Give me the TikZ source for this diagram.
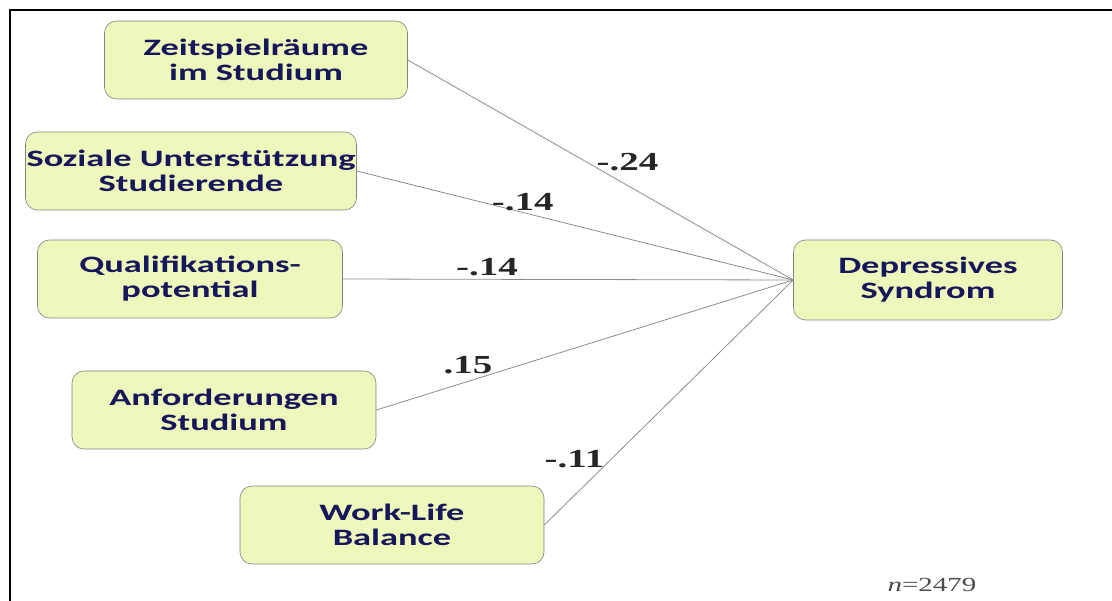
\documentclass[tikz,border=0pt]{standalone}
\usepackage{fontspec}
\setmainfont{Carlito}
\newfontfamily\boxfont[FakeStretch=1.55]{Carlito}
\newfontfamily\labelfont[FakeStretch=1.5]{Liberation Serif}
\newfontfamily\notefont[FakeStretch=1.45]{Liberation Serif}
\usetikzlibrary{positioning}
\definecolor{boxfill}{RGB}{238,248,188}
\definecolor{boxline}{RGB}{130,130,130}
\definecolor{boxtext}{RGB}{22,22,90}
\definecolor{pathline}{RGB}{140,140,140}

\begin{document}
\begin{tikzpicture}[x=1pt, y=-1pt, semithick]
\tikzset{factor/.style={draw=boxline, fill=boxfill, rounded corners=12pt, align=center, text=boxtext, font=\boxfont\bfseries\fontsize{23.5}{25}\selectfont, inner sep=0pt, minimum height=78pt}}
\tikzset{weight/.style={font=\labelfont\bfseries\fontsize{26}{28}\selectfont, text=black!85}}
\tikzset{every edge/.style={draw=pathline, line width=0.8pt}}

\useasboundingbox (0,0) rectangle (1112,601);
\draw[line width=2pt] (10,601) -- (10,10) -- (1112,10);

\node[factor, minimum width=303pt]    	(zeit)   at (256,60)   {Zeitspielräume\\im Studium};
\node[factor, minimum width=331pt]    	(sozial) at (191,171)  {Soziale Unterstützung\\Studierende};
\node[factor, minimum width=305pt]    	(quali)  at (190,279)  {Qualifikations-\\potential};
\node[factor, minimum width=304pt]    	(anf)    at (224,410)  {Anforderungen\\Studium};
\node[factor, minimum width=304pt]    	(work)   at (392,525)  {Work-Life\\Balance};
\node[factor, minimum width=269pt, minimum height=80pt]	(depr)	at (928,280)  {Depressives\\Syndrom};

\path
(zeit.east)   edge     	node[weight, pos=.57, yshift=23pt] (w1) {-.24}    	(depr.west)
(sozial.east) edge     	node[weight, pos=.38, yshift=10pt] (w2) {-.14}    	(depr.west)
(quali.east)  edge     	node[weight, pos=.32, yshift=12pt] (w3) {-.14}    	(depr.west)
(anf.east)    edge     	node[weight, pos=.22, yshift=16pt] (w4) {.15}    	(depr.west)
(work.east)   edge     	node[weight, pos=.27, xshift=-37pt] (w5) {-.11}    	(depr.west);

\node[font=\notefont\fontsize{20}{22}\selectfont, text=black!70] (n) at (932,585) {\textit{n}=2479};

\end{tikzpicture}
\end{document}
